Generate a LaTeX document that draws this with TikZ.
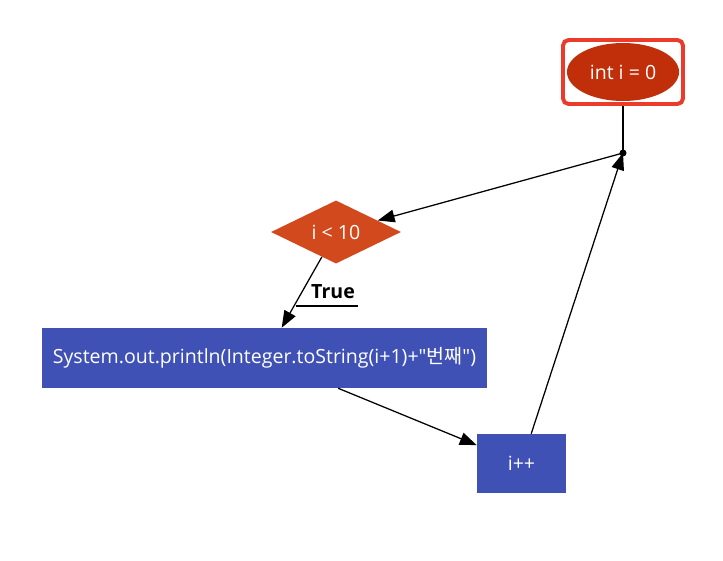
\documentclass[tikz,border=0pt]{standalone}
\usepackage{fontspec}
\newfontfamily\flowfont{Open Sans}
\newfontfamily\kofont{Noto Sans CJK KR}
\usetikzlibrary{shapes.geometric,arrows.meta}
\definecolor{startred}{RGB}{193,47,10}
\definecolor{condorange}{RGB}{210,73,30}
\definecolor{stepblue}{RGB}{63,81,181}
\definecolor{framered}{RGB}{236,58,43}
\tikzset{
  flowarrow/.style={line width=0.9pt, -{Triangle[length=12pt,width=9pt]}},
  boxnode/.style={rectangle, fill=stepblue, text=white, inner sep=0pt},
}
\begin{document}
\begin{tikzpicture}[x=0.025cm, y=-0.025cm, font=\flowfont\fontsize{13.9}{16}\selectfont]
\useasboundingbox (0,0) rectangle (723,560);
\node[ellipse, fill=startred, text=white, minimum width=2.8cm, minimum height=1.45cm, inner sep=0pt] (init) at (623,72) {int i = 0};
\node[draw=framered, line width=2.8pt, rounded corners=4pt, minimum width=3.0cm, minimum height=1.6cm] (initframe) at (623,72) {};
\coordinate (join) at (623,153);
\node[diamond, fill=condorange, text=white, minimum width=3.25cm, minimum height=1.5cm, inner sep=0pt] (cond) at (336,232) {i < 10};
\node[boxnode, minimum width=11.125cm, minimum height=1.5cm] (body) at (264.5,358) {System.out.println(Integer.toString(i+1)+"{\kofont 번째}")};
\node[boxnode, minimum width=2.225cm, minimum height=1.475cm] (inc) at (521.5,463.5) {i++};
\draw[line width=0.9pt] (initframe.south) -- (join);
\fill (join) circle (3.5);
\draw[flowarrow] (join) -- (cond);
\draw[flowarrow] (cond) -- (body);
\node[font=\flowfont\fontsize{13.9}{16}\selectfont\bfseries] (truelabel) at (333,292) {True};
\draw[line width=0.9pt] (296,306) -- (358,306);
\draw[flowarrow] (body) -- (inc);
\draw[flowarrow] (inc) -- (join);
\end{tikzpicture}
\end{document}
